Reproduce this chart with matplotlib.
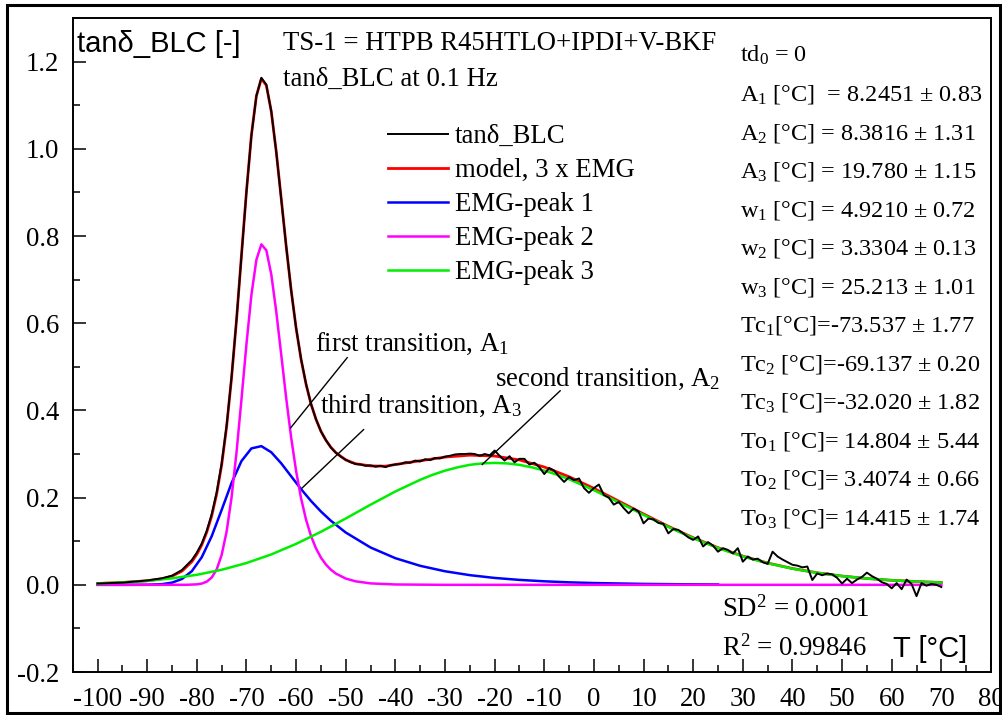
import matplotlib
matplotlib.use("Agg")
import matplotlib.pyplot as plt
from matplotlib.patches import Rectangle
from matplotlib.ticker import MultipleLocator, FormatStrFormatter

plt.rcParams['font.family'] = ['Liberation Serif', 'DejaVu Serif']
plt.rcParams['mathtext.fontset'] = 'custom'
plt.rcParams['mathtext.rm'] = 'Liberation Serif'
plt.rcParams['mathtext.it'] = 'Liberation Serif:italic'
plt.rcParams['axes.unicode_minus'] = False

# measured tan(delta) after baseline correction
T_data = [-100, -95, -90, -87, -85, -83, -81] + list(range(-80, 71))
tan_data = [0.003, 0.005, 0.010, 0.015, 0.021, 0.034, 0.057,
            0.074, 0.095, 0.124, 0.162, 0.212, 0.278, 0.365, 0.477, 0.609, 0.757,
            0.902, 1.031, 1.121, 1.163, 1.147, 1.086, 0.993, 0.886, 0.777, 0.676,
            0.589, 0.518, 0.461, 0.415, 0.380, 0.352, 0.332, 0.315, 0.303, 0.294,
            0.287, 0.281, 0.277,
            0.276, 0.273, 0.274, 0.271, 0.273, 0.270, 0.274, 0.276, 0.277, 0.281,
            0.280, 0.285, 0.283, 0.288, 0.286, 0.291, 0.290, 0.294,
            0.296, 0.299, 0.300, 0.300, 0.301, 0.300, 0.296, 0.300, 0.297, 0.308,
            0.296, 0.285, 0.295, 0.281, 0.289, 0.289, 0.276, 0.280, 0.270, 0.254,
            0.268, 0.262, 0.248, 0.236, 0.247, 0.240, 0.244, 0.222, 0.211,
            0.222, 0.230, 0.206, 0.200, 0.184, 0.190, 0.176, 0.164, 0.175, 0.168,
            0.141, 0.152, 0.150, 0.142, 0.140, 0.118, 0.128, 0.126, 0.118, 0.109,
            0.103, 0.111, 0.088, 0.098, 0.090, 0.076, 0.084, 0.080, 0.072, 0.084,
            0.053, 0.065, 0.058, 0.060, 0.052, 0.048, 0.076, 0.065, 0.058, 0.052,
            0.046, 0.044, 0.040, 0.042, 0.011, 0.026, 0.022, 0.026, 0.024, 0.016,
            0.003, 0.014, 0.004, 0.012, 0.018, 0.028, 0.020, 0.014, 0.006, 0.002,
            -0.008, 0.004, -0.010, 0.012, 0.002, -0.026, 0.004, -0.002, 0.002, 0.000,
            -0.005]

# sum of the three EMG peaks
T_model = [-100, -95, -90, -87, -85, -83, -81,
           -80, -79, -78, -77, -76, -75, -74, -73, -72, -71, -70, -69, -68, -67,
           -66, -65, -64, -63, -62, -61, -60, -59, -58, -57, -56, -55, -54, -53, -52,
           -50, -48, -45, -42, -40, -35, -30, -25, -20, -15, -10, -5, 0, 5, 10,
           15, 20, 25, 30, 35, 40, 45, 50, 55, 60, 65, 70]
tan_model = [0.0031, 0.0054, 0.0093, 0.0140, 0.0198, 0.0314, 0.0532,
             0.0701, 0.0917, 0.1209, 0.1583, 0.2086, 0.2748, 0.3627, 0.4751, 0.6080,
             0.7571, 0.9023, 1.0320, 1.1214, 1.1607, 1.1457, 1.0856, 0.9935, 0.8863,
             0.7769, 0.6762, 0.5889, 0.5174, 0.4603, 0.4150, 0.3799, 0.3523, 0.3317,
             0.3156, 0.3032,
             0.2865, 0.2777, 0.2727, 0.2721, 0.2760, 0.2845, 0.2930, 0.2974, 0.2954,
             0.2864, 0.2702, 0.2479, 0.2212, 0.1920, 0.1625, 0.1341, 0.1081, 0.0852,
             0.0659, 0.0500, 0.0374, 0.0276, 0.0201, 0.0145, 0.0104, 0.0075, 0.0053]

T_peak1 = [-100, -95, -90, -87, -85, -83, -81, -79, -77, -75, -73, -71, -69, -67,
           -65, -63, -61, -59, -57, -55, -53, -50, -45, -40, -35, -30, -25, -20,
           -15, -10, -5, 0, 10, 20, 25]
peak1 = [0.0, 0.0, 0.0002, 0.0016, 0.0050, 0.0134, 0.0314, 0.0635, 0.1116, 0.1718,
         0.2337, 0.2840, 0.3129, 0.3181, 0.3040, 0.2787, 0.2490, 0.2195, 0.1924,
         0.1682, 0.1470, 0.1200, 0.0856, 0.0611, 0.0436, 0.0311, 0.0222, 0.0158,
         0.0113, 0.0081, 0.0057, 0.0041, 0.0021, 0.0011, 0.0008]

T_peak2 = [-100, -90, -82, -80, -79, -78, -77, -76, -75, -74, -73, -72, -71, -70,
           -69, -68, -67, -66, -65, -64, -63, -62, -61, -60, -59, -58, -57, -56,
           -55, -54, -53, -52, -50, -48, -45, -40, -30, 0, 70]
peak2 = [0.0, 0.0, 0.0001, 0.0011, 0.0029, 0.0073, 0.0168, 0.0354, 0.0685, 0.1221,
         0.2007, 0.3042, 0.4262, 0.5523, 0.6652, 0.7455, 0.7808, 0.7674, 0.7119,
         0.6270, 0.5282, 0.4287, 0.3381, 0.2610, 0.1985, 0.1496, 0.1121, 0.0838,
         0.0625, 0.0467, 0.0348, 0.0259, 0.0144, 0.0080, 0.0033, 0.0008, 0.0, 0.0, 0.0]

T_peak3 = [-100, -95, -90, -85, -80, -75, -70, -65, -60, -55, -50, -45, -40, -35,
           -32.5, -30, -27.5, -25, -22.5, -20, -17.5, -15, -12.5, -10, -7.5, -5,
           0, 5, 10, 15, 20, 25, 30, 35, 40, 45, 50, 55, 60, 65, 70]
peak3 = [0.0031, 0.0054, 0.0091, 0.0148, 0.0230, 0.0345, 0.0500, 0.0697, 0.0939,
         0.1216, 0.1521, 0.1838, 0.2141, 0.2409, 0.2523, 0.2619, 0.2694, 0.2752,
         0.2785, 0.2796, 0.2785, 0.2751, 0.2695, 0.2621, 0.2528, 0.2422,
         0.2171, 0.1891, 0.1604, 0.1326, 0.1070, 0.0844, 0.0653,
         0.0496, 0.0371, 0.0274, 0.0200, 0.0145, 0.0104, 0.0074, 0.0053]

fit_params = [r'td$_\mathregular{0}$ = 0',
              r'A$_\mathregular{1}$ [°C]  = 8.2451 ± 0.83',
              r'A$_\mathregular{2}$ [°C] = 8.3816 ± 1.31',
              r'A$_\mathregular{3}$ [°C] = 19.780 ± 1.15',
              r'w$_\mathregular{1}$ [°C] = 4.9210 ± 0.72',
              r'w$_\mathregular{2}$ [°C] = 3.3304 ± 0.13',
              r'w$_\mathregular{3}$ [°C] = 25.213 ± 1.01',
              r'Tc$_\mathregular{1}$[°C]=-73.537 ± 1.77',
              r'Tc$_\mathregular{2}$ [°C]=-69.137 ± 0.20',
              r'Tc$_\mathregular{3}$ [°C]=-32.020 ± 1.82',
              r'To$_\mathregular{1}$ [°C]= 14.804 ± 5.44',
              r'To$_\mathregular{2}$ [°C]= 3.4074 ± 0.66',
              r'To$_\mathregular{3}$ [°C]= 14.415 ± 1.74']

FS = 19.3
fig = plt.figure(figsize=(10.02, 7.15), dpi=100)
ax = fig.add_axes([0.0726, 0.0601, 0.9164, 0.9147])

ax.plot(T_model, tan_model, color='#ff0000', lw=2.0, label='model, 3 x EMG', zorder=3)
ax.plot(T_data, tan_data, color='black', lw=1.4, label='tanδ_BLC', zorder=4)
ax.plot(T_peak1, peak1, color='#0000ff', lw=1.8, label='EMG-peak 1', zorder=3)
ax.plot(T_peak2, peak2, color='#ff00ff', lw=1.8, label='EMG-peak 2', zorder=3)
ax.plot(T_peak3, peak3, color='#00ee00', lw=1.8, label='EMG-peak 3', zorder=3)

ax.set_xlim(-105, 80)
ax.set_ylim(-0.2, 1.3)
ax.xaxis.set_major_locator(MultipleLocator(10))
ax.xaxis.set_minor_locator(MultipleLocator(5))
ax.yaxis.set_major_locator(MultipleLocator(0.2))
ax.yaxis.set_minor_locator(MultipleLocator(0.1))
ax.yaxis.set_major_formatter(FormatStrFormatter('%.1f'))
ax.set_yticks([-0.2, 0.0, 0.2, 0.4, 0.6, 0.8, 1.0, 1.2])
ax.tick_params(which='both', direction='in', width=1.1, labelsize=FS)
ax.tick_params(which='major', length=9.4)
ax.tick_params(which='minor', length=5)
ax.tick_params(axis='y', pad=9.7)
ax.tick_params(axis='x', pad=10.5)
for s in ax.spines.values():
    s.set_linewidth(1.4)

handles, labels = ax.get_legend_handles_labels()
order = [1, 0, 2, 3, 4]
ax.legend([handles[i] for i in order], [labels[i] for i in order],
          loc='upper left', bbox_to_anchor=(0.3434, 0.838), frameon=False,
          fontsize=FS, borderpad=0, borderaxespad=0, handlelength=2.24,
          handletextpad=0.26, labelspacing=0.34)

sans = ['Liberation Sans', 'DejaVu Sans']
ax.text(0.0047, 0.9488, 'tanδ_BLC [-]', transform=ax.transAxes, family=sans,
        fontsize=21, va='baseline')
ax.text(0.229, 0.9511, 'TS-1 = HTPB R45HTLO+IPDI+V-BKF', transform=ax.transAxes,
        fontsize=FS, va='baseline')
ax.text(0.229, 0.896, 'tanδ_BLC at 0.1 Hz', transform=ax.transAxes,
        fontsize=FS, va='baseline')

for i, s in enumerate(fit_params):
    ax.text(0.7267, 0.9327 - i * 0.05887, s, transform=ax.transAxes,
            fontsize=17.5, va='baseline')

ax.text(0.7071, 0.0841, r'SD$^\mathregular{2}$ = 0.0001', transform=ax.transAxes,
        fontsize=FS, va='baseline')
ax.text(0.7071, 0.0245, r'R$^\mathregular{2}$ = 0.99846', transform=ax.transAxes,
        fontsize=FS, va='baseline')
ax.text(0.8933, 0.0229, 'T [°C]', transform=ax.transAxes, family=sans,
        fontsize=21, va='baseline')

# pointer lines to the transitions
ax.plot([-49.7, -61.1], [0.521, 0.360], color='black', lw=1.0, zorder=5)
ax.plot([-46.4, -58.8], [0.356, 0.222], color='black', lw=1.0, zorder=5)
ax.plot([-6.8, -22.5], [0.445, 0.276], color='black', lw=1.0, zorder=5)
ax.text(-56.1, 0.537, r'first transition, A$_\mathregular{1}$', fontsize=FS, va='baseline')
ax.text(-55.1, 0.394, r'third transition, A$_\mathregular{3}$', fontsize=FS, va='baseline')
ax.text(-19.9, 0.456, r'second transition, A$_\mathregular{2}$', fontsize=FS, va='baseline')

fig.patches.append(Rectangle((7 / 1002, 1 - 713 / 715), 993 / 1002, 708 / 715,
                             transform=fig.transFigure, fill=False, lw=2.2,
                             edgecolor='black'))

fig.savefig('out.png', dpi=100)
